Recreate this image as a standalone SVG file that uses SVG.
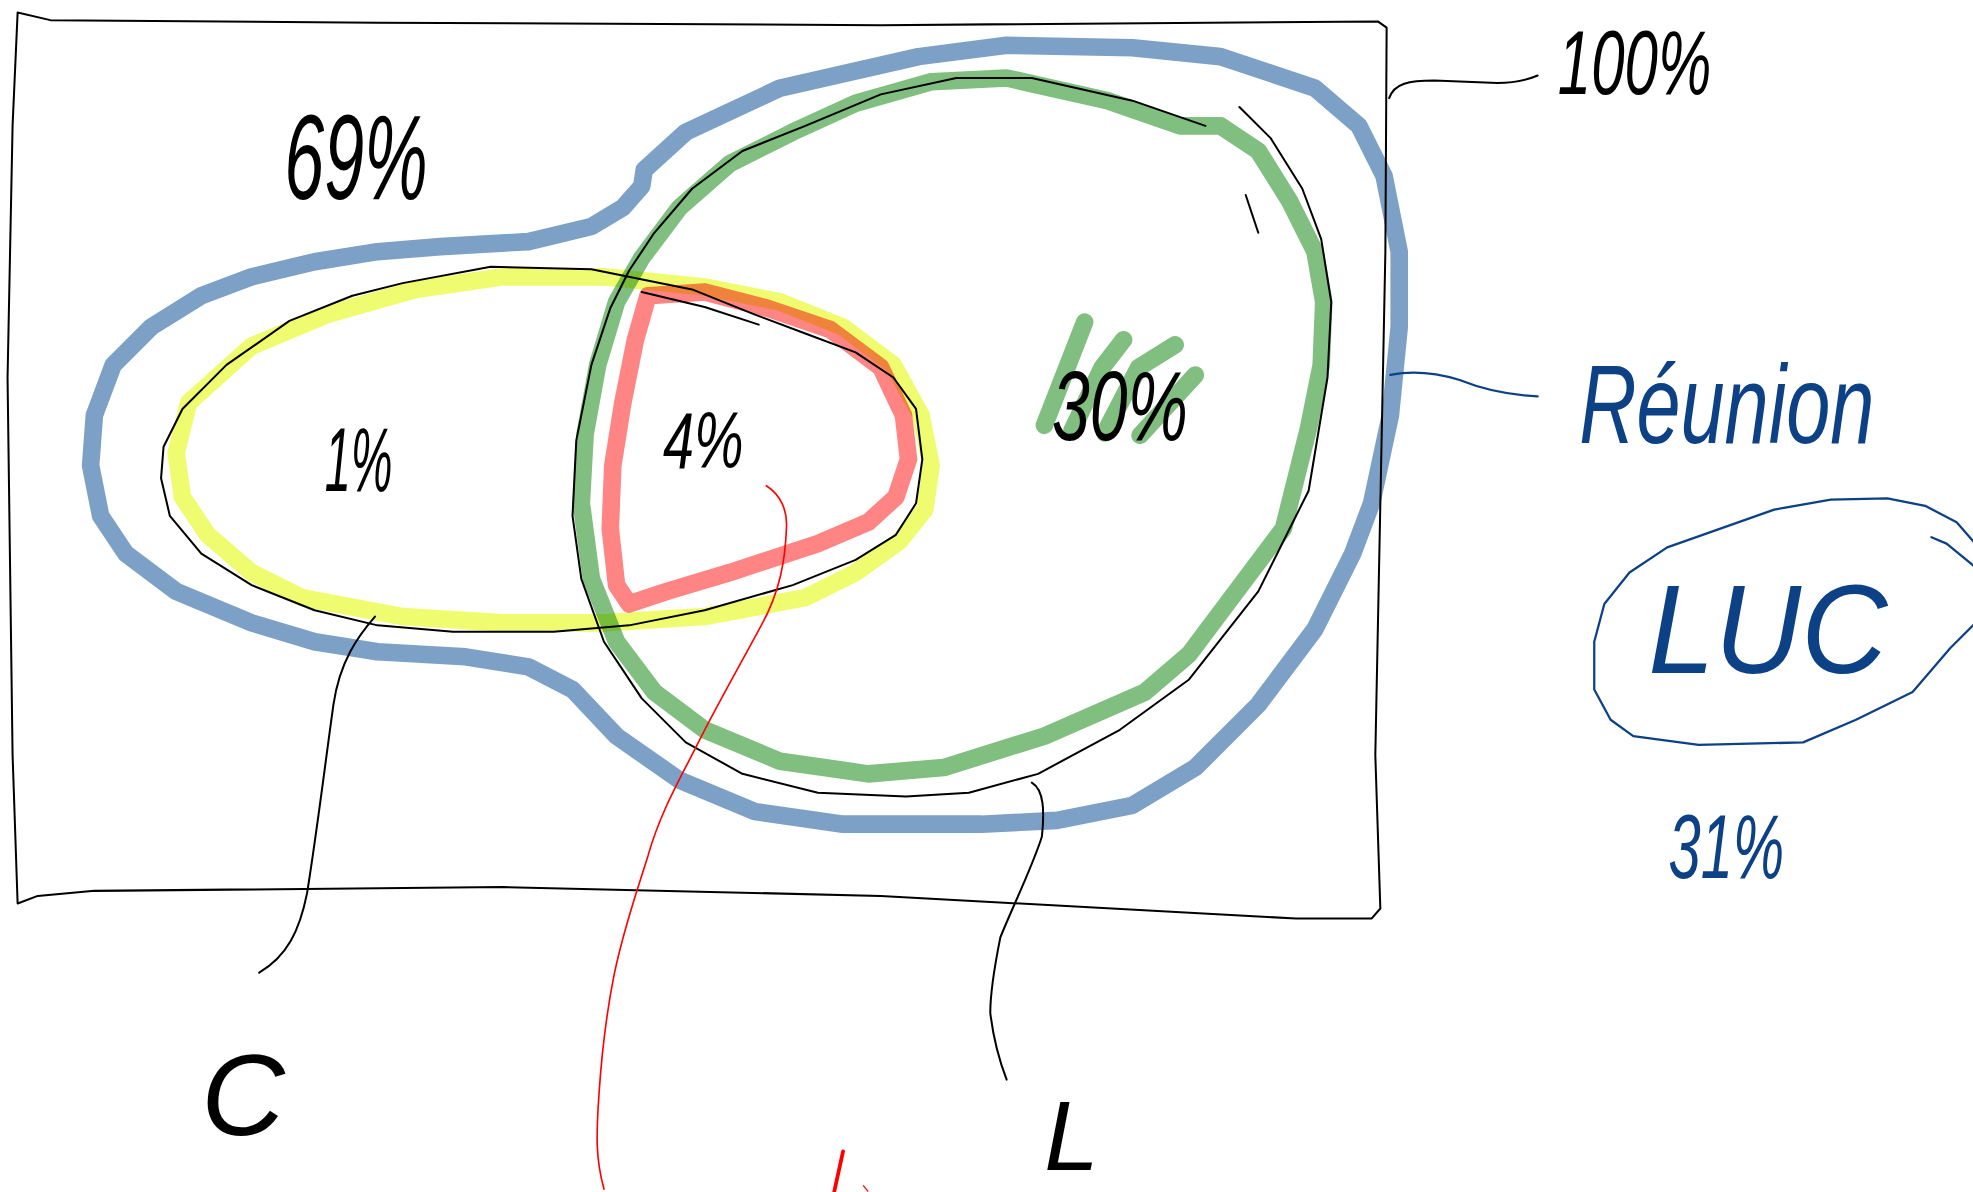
<svg xmlns="http://www.w3.org/2000/svg" width="1973" height="1192" viewBox="0 0 1973 1192">
<style>
.ink{fill:none;stroke:#000;stroke-width:1.6;stroke-linecap:round;stroke-linejoin:round}
.hl{fill:none;stroke-width:14;stroke-linecap:round;stroke-linejoin:round;mix-blend-mode:multiply}
.blue{stroke:#7da1c6}
.green{stroke:#80bf80}
.yellow{stroke:#f0fc70}
.red{stroke:#ff8585}
.pen{fill:none;stroke:#0d4185;stroke-width:1.8;stroke-linecap:round;stroke-linejoin:round}
.t{font-family:"Liberation Sans","DejaVu Sans",sans-serif;font-style:italic;fill:#000}
.tb{fill:#0d4185}
</style>
<rect width="1973" height="1192" fill="#fff"/>
<g transform="scale(1.25829)">
<g id="universe">
<path class="ink" d="M14,10 L40,16 L300,18 L700,20 L1095,17 L1102,22 L1101,200 L1097,400 L1093,600 L1097,722 L1090,730 L1030,730 L700,712 L400,705 L75,708 L30,712 L14,718 L10,600 L6,300 L10,100 Z"/>
</g>
<g id="reunion">
<path class="hl blue" d="M512,135 L545,105 L620,70 L730,45 L800,36 L900,38 L970,45 L1045,70 L1080,100 L1100,140 L1112,200 L1112,260 L1105,330 L1090,400 L1075,440 L1045,500 L1000,560 L950,610 L900,640 L840,652 L780,655 L670,655 L600,645 L540,620 L490,585 L455,548 L420,530 L370,522 L300,518 L250,510 L200,495 L140,470 L100,440 L80,410 L72,370 L75,330 L90,290 L120,260 L160,235 L200,220 L250,208 L300,200 L350,196 L420,192 L470,180 L495,165 L510,148 Z"/>
</g>
<g id="setL">
<path class="hl green" d="M938,100 L880,80 L800,62 L740,65 L680,82 L630,105 L580,130 L540,165 L510,205 L490,240 L475,290 L465,345 L462,400 L470,460 L490,510 L520,550 L560,580 L620,605 L690,615 L750,610 L830,585 L910,550 L945,520 L990,460 L1020,420 L1040,340 L1050,290 L1052,240 L1045,200 L1025,160 L1000,120 L970,100 Z"/>
<path class="ink" d="M958,100 L900,80 L820,62 L760,62 L700,75 L640,100 L590,120 L550,150 L520,185 L500,215 L485,245 L470,290 L458,350 L455,410 L462,460 L480,510 L510,555 L545,590 L590,615 L650,630 L720,633 L770,630 L825,615 L890,580 L945,540 L1000,470 L1040,390 L1055,300 L1058,240 L1050,190 L1035,150 L1010,110 L985,85"/>
<path class="ink" d="M990,155 L1000,185" stroke-width="1"/>
</g>
<g id="setC">
<path class="hl yellow" d="M150,320 L200,275 L260,250 L330,230 L400,220 L480,220 L560,228 L620,240 L670,260 L710,290 L732,330 L740,370 L735,405 L715,430 L680,455 L640,475 L560,490 L480,495 L400,495 L320,490 L240,475 L200,455 L165,425 L145,395 L140,360 Z"/>
<path class="ink" d="M145,325 L180,290 L230,255 L280,235 L320,225 L390,212 L470,214 L550,230 L600,250 L640,265 L680,280 L710,300 L728,325 L733,365 L728,400 L712,425 L680,445 L630,465 L560,485 L500,497 L440,502 L360,502 L300,497 L250,485 L200,465 L160,440 L135,410 L128,380 L130,355 Z"/>
<path class="ink" d="M510,232 L560,244 L603,258" stroke-width="1.2"/>
</g>
<g id="setLUC">
<path class="hl red" d="M515,235 L560,232 L610,245 L660,262 L700,292 L718,330 L722,365 L712,395 L690,415 L650,432 L580,455 L530,470 L500,480 L490,465 L485,420 L487,370 L495,320 L505,270 Z"/>
</g>
<g id="scribble30">
<path class="hl green" stroke-width="19" d="M830,338 L862,256 M852,342 L876,292 L893,270 M878,344 L905,292 L934,274 M906,346 L950,298"/>
</g>
<g id="connectors">
<path class="ink" d="M1104,78 C1108,66 1120,64 1140,64 L1190,66 C1205,66 1215,63 1222,60"/>
<path class="pen" d="M1105,298 C1120,295 1140,296 1160,302 C1180,310 1200,314 1222,315" stroke-width="1.4"/>
<path class="ink" d="M298,490 C285,505 270,525 265,560 C258,610 252,660 244,710 C238,740 228,760 206,773"/>
<path class="ink" d="M820,622 C830,628 830,645 828,665 C820,690 805,720 795,745 C790,770 787,790 787,805 C790,830 795,845 800,858"/>
<path fill="none" stroke="#ff0000" stroke-width="1.3" stroke-linecap="round" d="M609,386 C620,393 626,405 625,420 C624,445 620,470 605,497 C590,525 570,560 555,590 C540,620 525,645 515,680 C505,712 495,740 488,775 C481,810 478,840 476,870 C474,900 473,920 480,945"/>
<path fill="none" stroke="#ff0000" stroke-width="3" stroke-linecap="round" d="M670,915 L663,947"/>
<path fill="none" stroke="#ff0000" stroke-width="1" d="M686,942 L690,947"/>
</g>
<g id="lucLabel">
<path class="pen" d="M1267,548 L1267,510 L1275,480 L1295,455 L1325,435 L1410,405 L1455,397 L1500,396 L1530,402 L1555,415 L1575,438 L1582,465 L1570,495 L1550,515 L1520,550 L1475,572 L1433,590 L1350,592 L1298,585 L1280,572 Z"/>
<path class="pen" d="M1535,427 L1547,432 L1575,455" stroke-width="1.2"/>
</g>
<g id="texts">
<text class="t" x="226" y="158" font-size="96" textLength="114" lengthAdjust="spacingAndGlyphs">69%</text>
<text class="t" x="1238" y="75" font-size="72" textLength="122" lengthAdjust="spacingAndGlyphs">100%</text>
<text class="t tb" font-size="63" transform="translate(1255,352) scale(1,1.4)">Réunion</text>
<text class="t tb" x="1310" y="535" font-size="100" textLength="190" lengthAdjust="spacingAndGlyphs">LUC</text>
<text class="t tb" x="1326" y="698" font-size="72" textLength="92" lengthAdjust="spacingAndGlyphs">31%</text>
<text class="t" x="258" y="390" font-size="72" textLength="54" lengthAdjust="spacingAndGlyphs">1%</text>
<text class="t" x="527" y="372" font-size="64" textLength="64" lengthAdjust="spacingAndGlyphs">4%</text>
<text class="t" x="836" y="350" font-size="78" textLength="108" lengthAdjust="spacingAndGlyphs">30%</text>
<text class="t" x="160" y="902" font-size="92">C</text>
<text class="t" x="830" y="930" font-size="78">L</text>
</g>
</g>
</svg>
